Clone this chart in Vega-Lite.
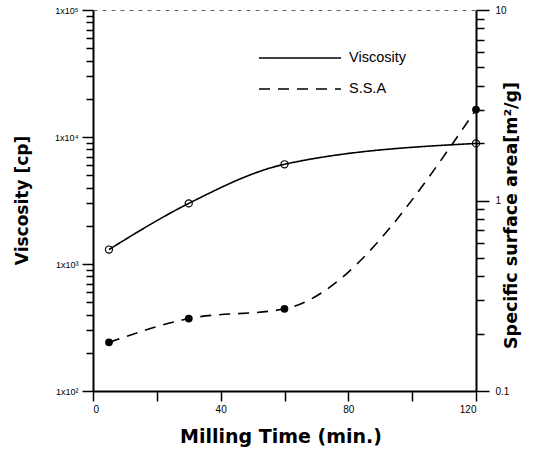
{
  "$schema": "https://vega.github.io/schema/vega-lite/v6.json",
  "width": 383,
  "height": 381,
  "autosize": {"type": "none"},
  "padding": {"left": 93, "top": 10, "right": 57, "bottom": 62},
  "background": "white",
  "datasets": {
    "visc": [
      {"time": 5, "viscosity": 1300, "series": "Viscosity"},
      {"time": 30, "viscosity": 3000, "series": "Viscosity"},
      {"time": 60, "viscosity": 6100, "series": "Viscosity"},
      {"time": 120, "viscosity": 8900, "series": "Viscosity"}
    ],
    "ssa": [
      {"time": 5, "ssa": 0.18, "series": "S.S.A"},
      {"time": 30, "ssa": 0.24, "series": "S.S.A"},
      {"time": 60, "ssa": 0.27, "series": "S.S.A"},
      {"time": 120, "ssa": 3.0, "series": "S.S.A"}
    ]
  },
  "config": {
    "view": {"stroke": "#666", "strokeDash": [4, 5], "strokeWidth": 1},
    "axis": {
      "grid": false,
      "domainColor": "black",
      "domainWidth": 2,
      "tickColor": "black",
      "tickWidth": 1.5,
      "labelColor": "black",
      "labelFont": "Liberation Sans",
      "titleFont": "DejaVu Sans",
      "titleFontWeight": "bold",
      "titleColor": "black",
      "titleFontSize": 17
    },
    "legend": {
      "orient": "none",
      "symbolType": "stroke",
      "symbolSize": 6724,
      "symbolStrokeWidth": 1.6,
      "symbolStrokeColor": "black",
      "labelFont": "Liberation Sans",
      "labelFontSize": 14.5,
      "labelColor": "black",
      "labelOffset": 7,
      "padding": 0,
      "title": null
    }
  },
  "layer": [
    {
      "data": {"name": "visc"},
      "encoding": {
        "x": {
          "field": "time", "type": "quantitative",
          "scale": {"domain": [0, 120]},
          "axis": {
            "values": [0, 20, 40, 60, 80, 100, 120],
            "labelExpr": "datum.value % 40 == 0 ? datum.label : ''",
            "tickSize": 10,
            "labelFontSize": 10,
            "labelPadding": 3,
            "title": "Milling Time (min.)",
            "titleFontSize": 19,
            "titleX": 187.5,
            "titleY": 51,
            "titleBaseline": "alphabetic"
          }
        },
        "y": {
          "field": "viscosity", "type": "quantitative",
          "scale": {"type": "log", "domain": [100, 100000]},
          "axis": {
            "orient": "left",
            "values": [100, 200, 300, 400, 500, 600, 700, 800, 900, 1000, 2000, 3000, 4000, 5000, 6000, 7000, 8000, 9000, 10000, 20000, 30000, 40000, 50000, 60000, 70000, 80000, 90000, 100000],
            "tickSize": {"condition": {"test": "indexof([100,1000,10000,100000], datum.value) >= 0", "value": 11}, "value": 7},
            "labelExpr": "datum.value == 100 ? '1x10²' : datum.value == 1000 ? '1x10³' : datum.value == 10000 ? '1x10⁴' : datum.value == 100000 ? '1x10⁵' : ''",
            "labelFontSize": 9,
            "labelPadding": 4,
            "title": "Viscosity [cp]",
            "titleAngle": 270,
            "titleX": -66,
            "titleY": 190,
            "titleBaseline": "alphabetic",
            "titleAlign": "center"
          }
        }
      },
      "layer": [
        {
          "mark": {"type": "line", "interpolate": "monotone", "color": "black", "strokeWidth": 1.6},
          "encoding": {
            "strokeDash": {
              "field": "series", "type": "nominal",
              "scale": {"domain": ["Viscosity"], "range": [[1, 0]]},
              "legend": {"legendX": 165, "legendY": 6}
            }
          }
        },
        {
          "mark": {"type": "point", "filled": false, "color": "black", "size": 50, "strokeWidth": 1.2, "opacity": 1}
        }
      ]
    },
    {
      "data": {"name": "ssa"},
      "encoding": {
        "x": {
          "field": "time", "type": "quantitative",
          "scale": {"domain": [0, 120]},
          "axis": {
            "values": [0, 20, 40, 60, 80, 100, 120],
            "labelExpr": "datum.value % 40 == 0 ? datum.label : ''",
            "tickSize": 10,
            "labelFontSize": 10,
            "labelPadding": 3,
            "title": "Milling Time (min.)",
            "titleFontSize": 19,
            "titleX": 187.5,
            "titleY": 51,
            "titleBaseline": "alphabetic"
          }
        },
        "y": {
          "field": "ssa", "type": "quantitative",
          "scale": {"type": "log", "domain": [0.1, 10]},
          "axis": {
            "orient": "right",
            "values": [0.1, 0.2, 0.3, 0.4, 0.5, 0.6, 0.7, 0.8, 0.9, 1, 2, 3, 4, 5, 6, 7, 8, 9, 10],
            "tickSize": {"condition": {"test": "indexof([0.1,1,10], datum.value) >= 0", "value": 13}, "value": 8},
            "labelExpr": "datum.value == 0.1 ? '0.1' : datum.value == 1 ? '1' : datum.value == 10 ? '10' : ''",
            "labelFontSize": 10,
            "labelPadding": 6,
            "title": "Specific surface area[m²/g]",
            "titleFontSize": 17.5,
            "titleAngle": 270,
            "titleX": 40,
            "titleY": 205,
            "titleBaseline": "alphabetic",
            "titleAlign": "center"
          }
        }
      },
      "layer": [
        {
          "mark": {"type": "line", "interpolate": "monotone", "color": "black", "strokeWidth": 1.6},
          "encoding": {
            "strokeDash": {
              "field": "series", "type": "nominal",
              "scale": {"domain": ["S.S.A"], "range": [[11, 8]]},
              "legend": {"legendX": 165, "legendY": 37}
            }
          }
        },
        {
          "mark": {"type": "point", "filled": true, "color": "black", "size": 60, "opacity": 1}
        }
      ]
    }
  ],
  "resolve": {"scale": {"y": "independent", "strokeDash": "independent"}}
}
